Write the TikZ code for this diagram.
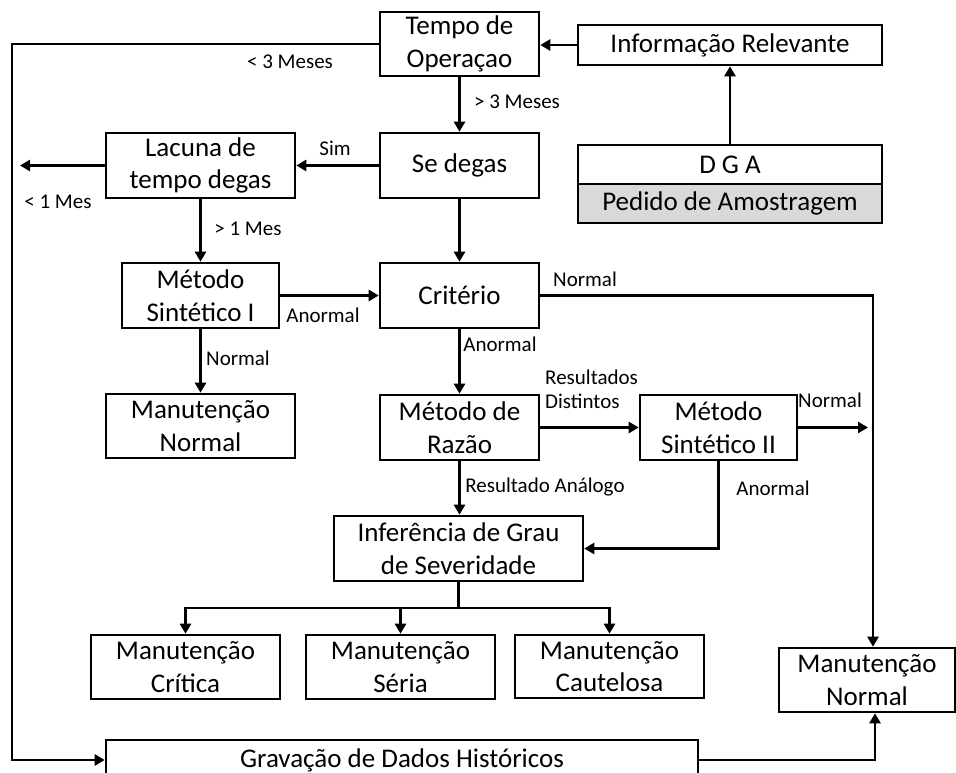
\documentclass[tikz,border=0pt]{standalone}
\usepackage{fontspec}
\setmainfont{Carlito}
\usetikzlibrary{arrows.meta}
\definecolor{shade}{HTML}{D9D9D9}
\begin{document}
\begin{tikzpicture}[x=1pt,y=-1pt,
  box/.style={draw, line width=2.6pt, align=center, inner sep=0pt,
    font=\fontsize{27}{32.5}\selectfont},
  lbl/.style={inner sep=0pt, align=left, font=\fontsize{21}{24}\selectfont},
  link/.style={line width=2.6pt, -{Triangle[length=10pt,width=11pt]}},
  plain/.style={line width=2.6pt}]
\clip (0,0) rectangle (956,773);

% process boxes
\node[box, minimum width=159pt, minimum height=64pt] (tempo) at (459.5,44) {Tempo de\\Operaçao};
\node[box, minimum width=304pt, minimum height=40pt] (info) at (730,45) {Informação Relevante};
\node[box, minimum width=304pt, minimum height=39pt] (dga) at (730,164.5) {D G A};
\node[box, fill=shade, minimum width=304pt, minimum height=39pt] (pedido) at (730,203.5) {Pedido de Amostragem};
\node[box, minimum width=159pt, minimum height=65pt] (sedegas) at (459.5,165.5) {Se degas};
\node[box, minimum width=189pt, minimum height=65pt] (lacuna) at (200.5,165.5) {Lacuna de\\tempo degas};
\node[box, minimum width=157pt, minimum height=65pt] (msi) at (200.5,295.5) {Método\\Sintético I};
\node[box, minimum width=159pt, minimum height=65pt] (crit) at (459.5,295.5) {Critério};
\node[box, minimum width=189pt, minimum height=64pt] (mnl) at (200.5,426) {Manutenção\\Normal};
\node[box, minimum width=159pt, minimum height=65pt] (razao) at (459.5,427.5) {Método de\\Razão};
\node[box, minimum width=157pt, minimum height=65pt] (msii) at (718.5,427.5) {Método\\Sintético II};
\node[box, minimum width=249pt, minimum height=65pt] (infer) at (458.5,548.5) {Inferência de Grau\\de Severidade};
\node[box, minimum width=189pt, minimum height=64pt] (critica) at (185.5,667) {Manutenção\\Crítica};
\node[box, minimum width=189pt, minimum height=64pt] (seria) at (400.5,667) {Manutenção\\Séria};
\node[box, minimum width=189pt, minimum height=63pt] (caut) at (609.5,666.5) {Manutenção\\Cautelosa};
\node[box, minimum width=176pt, minimum height=64pt] (mnr) at (867,680) {Manutenção\\Normal};
\node[box, minimum width=592pt, minimum height=40pt] (grav) at (402,760) {Gravação de Dados Históricos};

% free ends and bends
\coordinate (lrail) at (12,44);
\coordinate (lacout) at (20,165.5);
\coordinate (msiiout) at (868,427.5);
\coordinate (split) at (458.5,608);

% connectors
\draw[link] (info.west) -- (tempo.east |- info.west);
\draw[link] (dga.north) -- (info.south);
\draw[link] (tempo.west) -- (lrail) |- (grav.west);
\draw[link] (tempo.south) -- (sedegas.north);
\draw[link] (sedegas.west) -- (lacuna.east);
\draw[link] (lacuna.west) -- (lacout);
\draw[link] (lacuna.south) -- (msi.north);
\draw[link] (sedegas.south) -- (crit.north);
\draw[link] (msi.east) -- (crit.west);
\draw[link] (msi.south) -- (mnl.north);
\draw[link] (crit.south) -- (razao.north);
\draw[link] (crit.east) -| ([xshift=6pt]mnr.north);
\draw[link] (razao.east) -- (msii.west);
\draw[link] (msii.east) -- (msiiout);
\draw[link] (msii.south) |- (infer.east);
\draw[link] (razao.south) -- (razao.south |- infer.north);
\draw[plain] (infer.south) -- (split);
\draw[link] (split) -| (critica.north);
\draw[link] (split) -| (seria.north);
\draw[link] (split) -| (caut.north);
\draw[link] (grav.east) -| ([xshift=8pt]mnr.south);

% branch labels
\node[lbl] (l3m) at (290,62) {< 3 Meses};
\node[lbl] (g3m) at (517,102) {> 3 Meses};
\node[lbl] (lsim) at (335,148) {Sim};
\node[lbl] (l1m) at (58,202) {< 1 Mes};
\node[lbl] (g1m) at (248,229) {> 1 Mes};
\node[lbl] (lanorm1) at (323,315) {Anormal};
\node[lbl] (lnorm1) at (238,358) {Normal};
\node[lbl] (lnorm2) at (585,279) {Normal};
\node[lbl] (lanorm2) at (500,344) {Anormal};
\node[lbl, anchor=west] (ldist) at (545,389) {Resultados\\Distintos};
\node[lbl] (lnorm3) at (830,400) {Normal};
\node[lbl] (lanorm3) at (773,488) {Anormal};
\node[lbl] (lanalog) at (545,487) {Resultado Análogo};
\end{tikzpicture}
\end{document}
